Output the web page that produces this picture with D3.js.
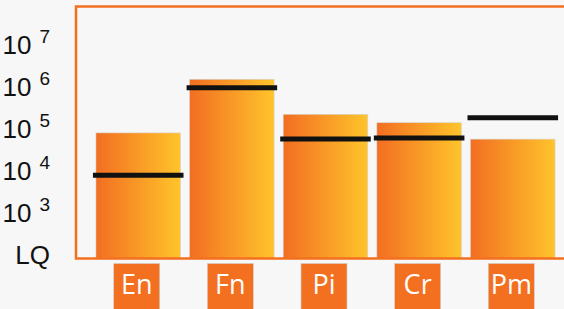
<!DOCTYPE html>
<html>
<head>
<meta charset="utf-8">
<script src="https://cdn.jsdelivr.net/npm/d3@7"></script>
<style>
  body { margin: 0; background: #f7f7f7; }
  svg { display: block; }
</style>
</head>
<body>
<div id="chart"></div>
<script>
// Data
const categories = ['En', 'Fn', 'Pi', 'Cr', 'Pm'];
const barValues = [8.3e4, 1.57e6, 2.3e5, 1.45e5, 5.9e4];
const lineValues = [8.1e3, 9.8e5, 5.9e4, 6.3e4, 1.9e5];
const tickValues = [1e2, 1e3, 1e4, 1e5, 1e6, 1e7];
const tickLabels = ['LQ', '10|3', '10|4', '10|5', '10|6', '10|7'];

const width = 564, height = 309;
const frame = { left: 76, top: 6.5, bottom: 258.5 };

const svg = d3.select('#chart')
    .append('svg')
    .attr('width', width)
    .attr('height', height)
    .style('font-family', '"Open Sans", sans-serif');

svg.append('rect')
    .attr('width', width)
    .attr('height', height)
    .attr('fill', '#f7f7f7');

// Gradient for the bars
const grad = svg.append('defs').append('linearGradient')
    .attr('id', 'barGrad')
    .attr('x1', '0%').attr('x2', '100%')
    .attr('y1', '0%').attr('y2', '0%');
grad.append('stop').attr('offset', '0%').attr('stop-color', '#f26e22');
grad.append('stop').attr('offset', '100%').attr('stop-color', '#ffc42b');

// Scales
const x = d3.scaleBand()
    .domain(categories)
    .range([91.45, 559.55])
    .paddingInner(0.097)
    .paddingOuter(0.048);

const y = d3.scaleLog()
    .domain([1e2, 1e7])
    .range([255.5, 45.5]);

// Bars
svg.selectAll('.bar')
    .data(categories)
    .join('rect')
    .attr('class', 'bar')
    .attr('x', d => x(d))
    .attr('width', x.bandwidth())
    .attr('y', (d, i) => y(barValues[i]))
    .attr('height', (d, i) => frame.bottom - y(barValues[i]))
    .attr('fill', 'url(#barGrad)')
    .attr('stroke', '#d4d4d4')
    .attr('stroke-width', 0.6);

// Median lines
svg.selectAll('.mark')
    .data(categories)
    .join('line')
    .attr('class', 'mark')
    .attr('x1', d => x(d) - 3)
    .attr('x2', d => x(d) + x.bandwidth() + 3)
    .attr('y1', (d, i) => y(lineValues[i]))
    .attr('y2', (d, i) => y(lineValues[i]))
    .attr('stroke', '#111')
    .attr('stroke-width', 5);

// Frame (left, top, bottom)
svg.append('path')
    .attr('d', `M${width + 5},${frame.top} H${frame.left} V${frame.bottom} H${width + 5}`)
    .attr('fill', 'none')
    .attr('stroke', '#f37021')
    .attr('stroke-width', 2.5);

// Y axis with superscript labels
const yAxis = d3.axisLeft(y)
    .tickValues(tickValues)
    .tickSize(0)
    .tickPadding(26)
    .tickFormat((d, i) => tickLabels[i]);

const gy = svg.append('g')
    .attr('transform', `translate(${frame.left},0)`)
    .call(yAxis);
gy.select('.domain').remove();
gy.selectAll('text')
    .attr('fill', '#111')
    .style('font-size', '26px')
    .each(function() {
        const t = d3.select(this);
        const parts = t.text().split('|');
        if (parts.length < 2) return;
        t.text(null);
        t.append('tspan').text(parts[0]);
        t.append('tspan')
            .attr('dx', 8)
            .attr('dy', -11)
            .style('font-size', '19px')
            .text(parts[1]);
    });

// Category label boxes
const boxW = 46;
const labels = svg.selectAll('.lab')
    .data(categories)
    .join('g')
    .attr('class', 'lab')
    .attr('transform', d => `translate(${x(d) + x.bandwidth() / 2 - 1.5},0)`);

labels.append('rect')
    .attr('x', -boxW / 2)
    .attr('y', 263.5)
    .attr('width', boxW)
    .attr('height', 50)
    .attr('fill', '#f37021')
    .attr('stroke', '#cfcfcf')
    .attr('stroke-width', 0.6);

labels.append('text')
    .attr('y', 294)
    .attr('text-anchor', 'middle')
    .attr('fill', '#fff')
    .style('font-size', '27px')
    .text(d => d);
</script>
</body>
</html>
